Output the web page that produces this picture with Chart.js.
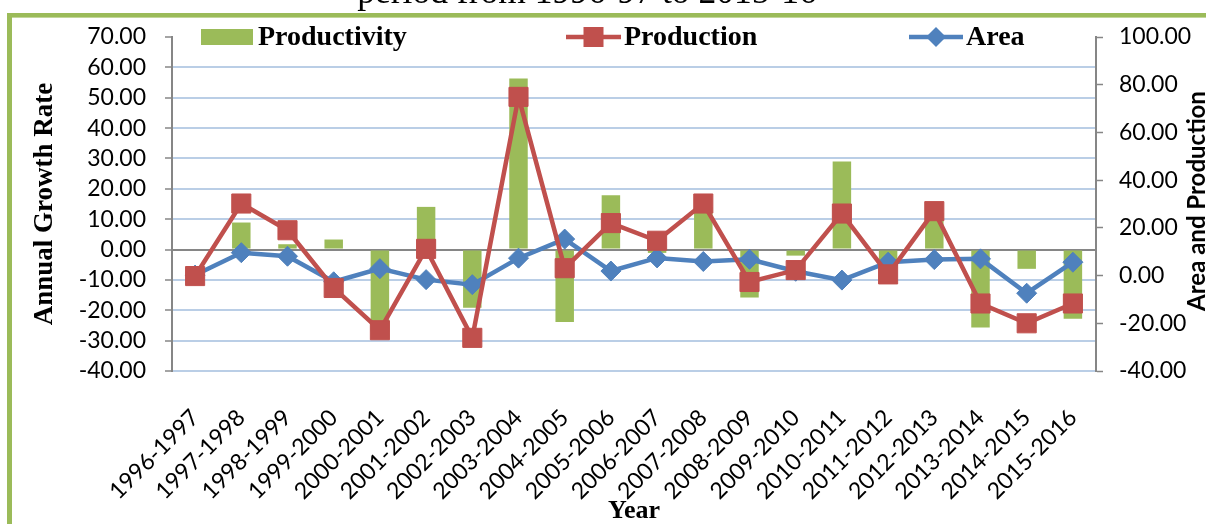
<!DOCTYPE html>
<html>
<head>
<meta charset="utf-8">
<script src="https://cdn.jsdelivr.net/npm/chart.js@4/dist/chart.umd.min.js"></script>
<style>
  html, body { margin: 0; padding: 0; background: #ffffff; }
  #wrap { position: relative; width: 1206px; height: 524px; overflow: hidden; }
  canvas { display: block; }
</style>
</head>
<body>
<div id="wrap"><canvas id="growth" width="1206" height="524"></canvas></div>
<script>
// Year-on-year growth rates (%)
const years = [
  '1996-1997', '1997-1998', '1998-1999', '1999-2000', '2000-2001',
  '2001-2002', '2002-2003', '2003-2004', '2004-2005', '2005-2006',
  '2006-2007', '2007-2008', '2008-2009', '2009-2010', '2010-2011',
  '2011-2012', '2012-2013', '2013-2014', '2014-2015', '2015-2016'
];
const productivity = [null, 8.9, 1.75, 3.3, -27.0, 14.05, -19.2, 56.3, -23.9, 17.85,
                      -1.1, 14.0, -15.8, -2.0, 29.0, -6.0, 12.0, -25.7, -6.35, -22.8];
const production = [-0.2, 30.2, 19.0, -5.2, -22.9, 11.2, -26.1, 74.9, 3.1, 22.0,
                    14.6, 30.2, -2.7, 2.3, 26.0, 0.5, 27.0, -11.7, -20.0, -11.7];
const area = [0.2, 9.6, 8.1, -2.6, 2.9, -1.7, -3.8, 7.3, 15.3, 1.9,
              7.4, 5.9, 6.8, 1.8, -1.9, 5.6, 6.7, 7.0, -7.4, 5.6];

// Axis ranges
const rateAxis = { min: -40, max: 70, step: 10 };
const sideAxis = { min: -40, max: 100, step: 20 };

const GREEN = '#9BBB59';
const RED = '#C0504D';
const BLUE = '#4F81BD';
const GRID = '#BACEE6';
const AXIS = '#868686';
const SERIF = '"Liberation Serif", "Times New Roman", serif';
const SANS = 'Lato, "Open Sans", sans-serif';

// Page frame and the heading line above it
const framePlugin = {
  id: 'frame',
  beforeDraw(chart) {
    const ctx = chart.ctx;
    ctx.save();
    ctx.fillStyle = '#ffffff';
    ctx.fillRect(0, 0, chart.width, chart.height);
    ctx.fillStyle = GREEN;
    ctx.fillRect(7, 13, 5, chart.height - 13);
    ctx.fillRect(7, 13, chart.width - 7, 4.6);
    ctx.fillStyle = '#000';
    ctx.font = '35.5px ' + SERIF;
    ctx.textAlign = 'center';
    ctx.textBaseline = 'alphabetic';
    ctx.fillText('period from 1996-97 to 2015-16', 587, 2.5);
    ctx.restore();
  }
};

// Series key along the top of the plot, plus the right-hand axis title
const keyPlugin = {
  id: 'seriesKey',
  afterDraw(chart) {
    const ctx = chart.ctx;
    const ds = chart.data.datasets;
    const cy = 37;
    ctx.save();
    ctx.font = 'bold 28px ' + SERIF;
    ctx.fillStyle = '#000';
    ctx.textBaseline = 'alphabetic';
    ctx.textAlign = 'left';

    // Productivity: filled swatch
    ctx.fillStyle = ds[0].backgroundColor;
    ctx.fillRect(201, 29, 52, 16);
    ctx.fillStyle = '#000';
    ctx.fillText(ds[0].label, 258, 45);

    // Production: line with square marker
    ctx.strokeStyle = ds[1].borderColor;
    ctx.lineWidth = 4.5;
    ctx.beginPath(); ctx.moveTo(566, cy); ctx.lineTo(621, cy); ctx.stroke();
    ctx.fillStyle = ds[1].pointBackgroundColor;
    ctx.fillRect(583.5, cy - 10, 20, 20);
    ctx.fillStyle = '#000';
    ctx.fillText(ds[1].label, 624, 45);

    // Area: line with diamond marker
    ctx.strokeStyle = ds[2].borderColor;
    ctx.beginPath(); ctx.moveTo(909, cy); ctx.lineTo(963, cy); ctx.stroke();
    ctx.fillStyle = ds[2].pointBackgroundColor;
    ctx.beginPath();
    ctx.moveTo(936 - 10, cy); ctx.lineTo(936, cy - 10);
    ctx.lineTo(936 + 10, cy); ctx.lineTo(936, cy + 10);
    ctx.closePath(); ctx.fill();
    ctx.fillStyle = '#000';
    ctx.fillText(ds[2].label, 966, 45);

    // Right axis title, reading upwards
    ctx.translate(1205, 201);
    ctx.rotate(-Math.PI / 2);
    ctx.textAlign = 'center';
    ctx.font = 'bold 24px ' + SANS;
    ctx.fillText('Area and Production', 0, 0);
    ctx.restore();
  }
};

const fmt = v => Number(v).toFixed(2);

new Chart(document.getElementById('growth'), {
  data: {
    labels: years,
    datasets: [
      {
        type: 'bar',
        label: 'Productivity',
        data: productivity,
        yAxisID: 'y',
        backgroundColor: GREEN,
        borderWidth: 0,
        barPercentage: 0.4,
        categoryPercentage: 1.0,
        order: 3
      },
      {
        type: 'line',
        label: 'Production',
        data: production,
        yAxisID: 'y1',
        borderColor: RED,
        borderWidth: 4.5,
        tension: 0,
        pointStyle: 'rect',
        pointRadius: 13.5,
        pointBackgroundColor: RED,
        pointBorderColor: RED,
        pointBorderWidth: 1,
        order: 1
      },
      {
        type: 'line',
        label: 'Area',
        data: area,
        yAxisID: 'y1',
        borderColor: BLUE,
        borderWidth: 4.5,
        tension: 0,
        pointStyle: 'rectRot',
        pointRadius: 10,
        pointBackgroundColor: BLUE,
        pointBorderColor: BLUE,
        pointBorderWidth: 1,
        order: 2
      }
    ]
  },
  options: {
    responsive: false,
    animation: false,
    devicePixelRatio: 1,
    layout: { padding: { top: 37, left: 0, right: 0, bottom: 0 } },
    plugins: {
      legend: { display: false },
      tooltip: { enabled: false },
      title: { display: false }
    },
    scales: {
      x: {
        type: 'category',
        offset: true,
        grid: { display: false, drawTicks: false },
        border: { display: false },
        ticks: {
          autoSkip: false,
          minRotation: 45,
          maxRotation: 45,
          padding: 33,
          color: '#000',
          font: { family: SANS, size: 23 }
        },
        title: {
          display: true,
          text: 'Year',
          color: '#000',
          font: { family: SERIF, size: 26, weight: 'bold' },
          padding: { top: 0, bottom: -3 }
        },
        afterFit(scale) { scale.height = 153; }
      },
      y: {
        position: 'left',
        min: rateAxis.min,
        max: rateAxis.max,
        ticks: {
          stepSize: rateAxis.step,
          maxTicksLimit: 20,
          padding: 19,
          color: '#000',
          font: { family: SANS, size: 23, lineHeight: 1 },
          callback: fmt
        },
        grid: {
          color: c => c.tick.value === 0 ? AXIS : (c.tick.value === rateAxis.max ? 'rgba(0,0,0,0)' : GRID),
          lineWidth: 2,
          tickColor: AXIS,
          tickLength: 7,
          tickWidth: 1.5
        },
        border: { display: true, color: AXIS, width: 2 },
        title: {
          display: true,
          text: 'Annual Growth Rate',
          color: '#000',
          font: { family: SERIF, size: 27, weight: 'bold' },
          padding: { top: 29, bottom: 0 }
        },
        afterFit(scale) { scale.width = 172; }
      },
      y1: {
        position: 'right',
        min: sideAxis.min,
        max: sideAxis.max,
        ticks: {
          stepSize: sideAxis.step,
          maxTicksLimit: 20,
          padding: 16,
          color: '#000',
          font: { family: SANS, size: 23, lineHeight: 1 },
          callback: fmt
        },
        grid: {
          drawOnChartArea: false,
          tickColor: AXIS,
          tickLength: 7,
          tickWidth: 1.5
        },
        border: { display: true, color: AXIS, width: 2 },
        afterFit(scale) { scale.width = 110; }
      }
    }
  },
  plugins: [framePlugin, keyPlugin]
});
</script>
</body>
</html>
